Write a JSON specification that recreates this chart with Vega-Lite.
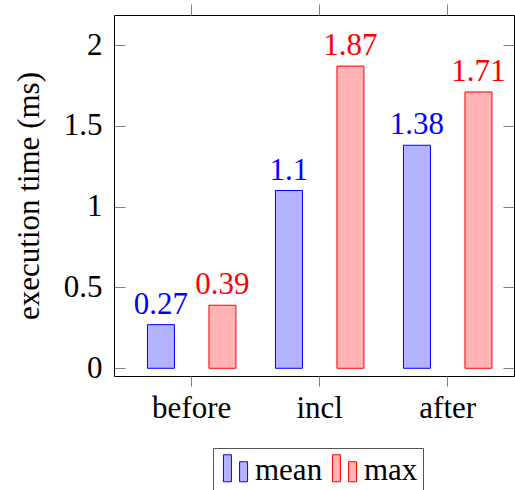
{
  "$schema": "https://vega.github.io/schema/vega-lite/v6.json",
  "autosize": "none",
  "width": 400,
  "height": 361,
  "padding": {"left": 114, "top": 15, "right": 1, "bottom": 114},
  "background": "white",
  "data": {"values": [
    {"phase": "before", "series": "mean", "value": 0.27},
    {"phase": "before", "series": "max", "value": 0.39},
    {"phase": "incl", "series": "mean", "value": 1.1},
    {"phase": "incl", "series": "max", "value": 1.87},
    {"phase": "after", "series": "mean", "value": 1.38},
    {"phase": "after", "series": "max", "value": 1.71}
  ]},
  "layer": [
    {
      "mark": {"type": "bar", "width": 27, "strokeWidth": 1},
      "encoding": {
        "x": {"field": "phase", "type": "nominal", "sort": ["before", "incl", "after"],
              "scale": {"paddingInner": 0, "paddingOuter": 0.0625, "align": 0.856},
              "axis": {"orient": "bottom", "title": null, "labelAngle": 0, "domain": false, "tickSize": 10, "tickColor": "#808080", "tickWidth": 1,
                       "labelFontSize": 31, "labelColor": "black", "labelPadding": 7}},
        "xOffset": {"field": "series", "type": "nominal", "sort": ["mean", "max"],
                    "scale": {"paddingInner": 0.561, "paddingOuter": 0.321}},
        "y": {"field": "value", "type": "quantitative",
              "scale": {"domain": [-0.0477, 2.186], "nice": false, "zero": false},
              "axis": {"orient": "left", "title": "execution time (ms)", "values": [0, 0.5, 1, 1.5, 2], "format": "~g",
                       "ticks": false, "domain": false, "grid": true, "gridColor": "#808080", "gridWidth": 1, "gridDash": [11, 378, 11, 0],
                       "labelFontSize": 31, "labelColor": "black", "labelPadding": 12,
                       "titleFontSize": 31, "titleFontWeight": "normal", "titleColor": "black", "titlePadding": 18}},
        "fill": {"field": "series", "type": "nominal", "scale": {"domain": ["mean", "max"], "range": ["#b3b3ff", "#ffb3b3"]}, "title": null},
        "stroke": {"field": "series", "type": "nominal", "scale": {"domain": ["mean", "max"], "range": ["#0000ff", "#ff0000"]}, "title": null}
      }
    },
    {
      "mark": {"type": "text", "dy": -11, "baseline": "alphabetic", "fontSize": 31},
      "encoding": {
        "x": {"field": "phase", "type": "nominal", "sort": ["before", "incl", "after"],
              "axis": {"orient": "top", "title": null, "labels": false, "domain": false, "tickSize": 11, "tickColor": "#808080", "tickWidth": 1}},
        "xOffset": {"field": "series", "type": "nominal", "sort": ["mean", "max"]},
        "y": {"field": "value", "type": "quantitative"},
        "text": {"field": "value", "type": "nominal"},
        "color": {"condition": {"test": "datum.series === 'mean'", "value": "#0000ff"}, "value": "#ff0000"}
      }
    }
  ],
  "config": {
    "font": "Liberation Serif",
    "view": {"stroke": "black", "strokeWidth": 1},
    "legend": {
      "orient": "none", "legendX": 99, "legendY": 433, "direction": "horizontal",
      "symbolType": "M-0.71,-0.94H-0.24V0.65H-0.71Z M0.24,-0.53H0.71V0.65H0.24Z",
      "symbolSize": 1156, "symbolStrokeWidth": 1, "symbolOpacity": 1,
      "labelFontSize": 31, "labelColor": "black", "labelOffset": 2,
      "columnPadding": 4, "padding": 5, "strokeColor": "#555", "fillColor": "white"
    }
  }
}
